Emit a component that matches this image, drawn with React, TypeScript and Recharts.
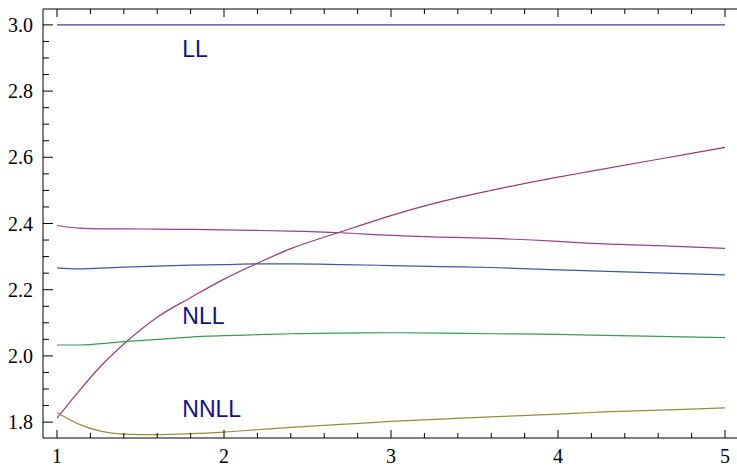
import React from 'react';
import { LineChart, Line, XAxis, YAxis, ReferenceDot } from 'recharts';

// sample points along x (shared by all curves)
const xs = [1, 1.13, 1.26, 1.4, 1.6, 1.8, 2.0, 2.2, 2.4, 2.7, 3.0, 3.3, 3.6, 4.0, 4.2, 4.6, 5.0];

const ll = [3, 3, 3, 3, 3, 3, 3, 3, 3, 3, 3, 3, 3, 3, 3, 3, 3];
const rising = [1.812, 1.893, 1.968, 2.036, 2.117, 2.176, 2.232, 2.28, 2.324, 2.375, 2.424, 2.466, 2.5, 2.54, 2.558, 2.594, 2.63];
const nnll = [1.829, 1.794, 1.773, 1.764, 1.762, 1.765, 1.77, 1.777, 1.784, 1.793, 1.802, 1.809, 1.816, 1.824, 1.829, 1.836, 1.843];
const nllGreen = [2.033, 2.033, 2.037, 2.043, 2.05, 2.057, 2.061, 2.064, 2.067, 2.069, 2.07, 2.069, 2.067, 2.065, 2.063, 2.059, 2.055];
const nllBlue = [2.266, 2.263, 2.265, 2.268, 2.271, 2.274, 2.276, 2.278, 2.278, 2.276, 2.273, 2.27, 2.267, 2.26, 2.257, 2.251, 2.245];
const upper = [2.394, 2.386, 2.384, 2.384, 2.383, 2.382, 2.381, 2.379, 2.377, 2.372, 2.364, 2.359, 2.355, 2.346, 2.34, 2.333, 2.325];

// curve labels
const labelNames = ['LL', 'NLL', 'NNLL'];
const labelX = [1.75, 1.75, 1.75];
const labelY = [2.903, 2.097, 1.816];

const xTicks = [1, 1.2, 1.4, 1.6, 1.8, 2, 2.2, 2.4, 2.6, 2.8, 3, 3.2, 3.4, 3.6, 3.8, 4, 4.2, 4.4, 4.6, 4.8, 5];
const yTicks = [1.8, 1.85, 1.9, 1.95, 2, 2.05, 2.1, 2.15, 2.2, 2.25, 2.3, 2.35, 2.4, 2.45, 2.5, 2.55, 2.6, 2.65, 2.7, 2.75, 2.8, 2.85, 2.9, 2.95, 3];

const data = xs.map((x, i) => ({
  x,
  ll: ll[i],
  rising: rising[i],
  nnll: nnll[i],
  green: nllGreen[i],
  blue: nllBlue[i],
  upper: upper[i],
}));

const isMajor = (v: number, step: number) => Math.abs(v / step - Math.round(v / step)) < 1e-6;
const SERIF = '"Liberation Serif", "Times New Roman", serif';

// eslint-disable-next-line @typescript-eslint/no-explicit-any
const LeftTick = ({ x, y, payload }: any) => {
  const major = isMajor(payload.value, 0.2);
  return (
    <g>
      <line x1={x} x2={x + (major ? 10 : 6)} y1={y} y2={y} stroke="#000" />
      {major && (
        <text x={x - 10} y={y + 7} textAnchor="end" fontFamily={SERIF} fontSize={20} fill="#000">
          {payload.value.toFixed(1)}
        </text>
      )}
    </g>
  );
};

// eslint-disable-next-line @typescript-eslint/no-explicit-any
const RightTick = ({ x, y, payload }: any) => {
  const major = isMajor(payload.value, 0.2);
  return <line x1={x - (major ? 9 : 5)} x2={x} y1={y} y2={y} stroke="#000" />;
};

// eslint-disable-next-line @typescript-eslint/no-explicit-any
const BottomTick = ({ x, y, payload }: any) => {
  const major = isMajor(payload.value, 1);
  return (
    <g>
      <line x1={x} x2={x} y1={y} y2={y - (major ? 8 : 5)} stroke="#000" />
      {major && (
        <text x={x} y={y + 25} textAnchor="middle" fontFamily={SERIF} fontSize={20} fill="#000">
          {payload.value}
        </text>
      )}
    </g>
  );
};

// eslint-disable-next-line @typescript-eslint/no-explicit-any
const TopTick = ({ x, y, payload }: any) => {
  const major = isMajor(payload.value, 1);
  return <line x1={x} x2={x} y1={y} y2={y + (major ? 8 : 5)} stroke="#000" />;
};

export default function App() {
  return (
    <div style={{ position: 'absolute', left: 0, top: 0, background: '#fff' }}>
      <LineChart width={737} height={467} data={data} margin={{ top: 0, right: 0, bottom: 0, left: 0 }}>
        <XAxis xAxisId="b" dataKey="x" type="number" domain={[0.916, 5.072]} ticks={xTicks} height={29}
          axisLine={{ stroke: '#000' }} tickLine={false} tickSize={0} tickMargin={0} tick={<BottomTick />} interval={0} />
        <XAxis xAxisId="t" orientation="top" dataKey="x" type="number" domain={[0.916, 5.072]} ticks={xTicks} height={9}
          axisLine={{ stroke: '#000' }} tickLine={false} tickSize={0} tickMargin={0} tick={<TopTick />} interval={0} />
        <YAxis yAxisId="l" type="number" domain={[1.752, 3.048]} ticks={yTicks} width={43}
          axisLine={{ stroke: '#000' }} tickLine={false} tickSize={0} tickMargin={0} tick={<LeftTick />} interval={0} />
        <YAxis yAxisId="r" orientation="right" type="number" domain={[1.752, 3.048]} ticks={yTicks} width={0}
          axisLine={{ stroke: '#000' }} tickLine={false} tickSize={0} tickMargin={0} tick={<RightTick />} interval={0} />

        <Line xAxisId="b" yAxisId="l" type="linear" dataKey="ll" stroke="#3e3d99" strokeWidth={1.2} dot={false} isAnimationActive={false} />
        <Line xAxisId="b" yAxisId="l" type="monotone" dataKey="rising" stroke="#993d71" strokeWidth={1.2} dot={false} isAnimationActive={false} />
        <Line xAxisId="b" yAxisId="l" type="monotone" dataKey="nnll" stroke="#998b3d" strokeWidth={1.2} dot={false} isAnimationActive={false} />
        <Line xAxisId="b" yAxisId="l" type="monotone" dataKey="green" stroke="#3d9956" strokeWidth={1.2} dot={false} isAnimationActive={false} />
        <Line xAxisId="b" yAxisId="l" type="monotone" dataKey="blue" stroke="#3d5a99" strokeWidth={1.2} dot={false} isAnimationActive={false} />
        <Line xAxisId="b" yAxisId="l" type="monotone" dataKey="upper" stroke="#993d90" strokeWidth={1.2} dot={false} isAnimationActive={false} />
        <Line xAxisId="t" yAxisId="r" dataKey="ll" stroke="none" dot={false} legendType="none" isAnimationActive={false} />

        {labelNames.map((name, i) => (
          <ReferenceDot key={name} xAxisId="b" yAxisId="l" x={labelX[i]} y={labelY[i]} r={0}
            // eslint-disable-next-line @typescript-eslint/no-explicit-any
            shape={(p: any) => (
              <text x={p.cx} y={p.cy} fill="#10108f" fontFamily='"Liberation Sans", Arial, sans-serif' fontSize={23}>{name}</text>
            )} />
        ))}
      </LineChart>
    </div>
  );
}
